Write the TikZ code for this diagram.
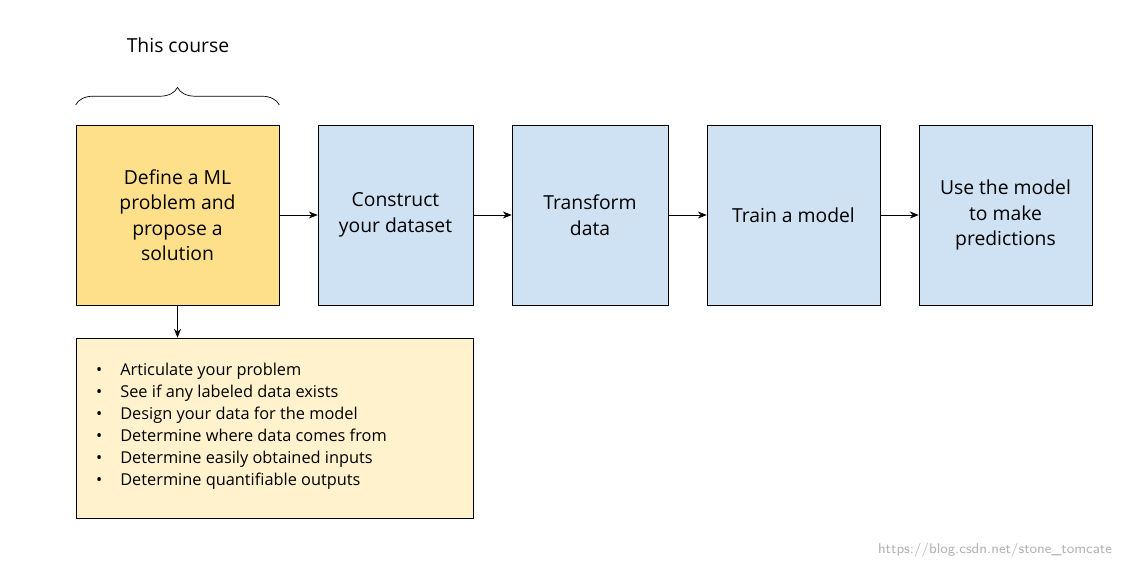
\documentclass[tikz,border=0pt]{standalone}
\usepackage{fontspec}
\setmainfont{Open Sans}
\usetikzlibrary{arrows.meta,positioning,calc,decorations.pathreplacing}
\definecolor{stepYellow}{HTML}{FFE08A}
\definecolor{stepBlue}{HTML}{CFE2F3}
\definecolor{noteYellow}{HTML}{FFF2CC}
\begin{document}
\begin{tikzpicture}[
				stage/.style={draw,fill=stepBlue,minimum height=3.6cm,inner sep=2pt,align=center,font=\fontsize{11}{14.5}\selectfont},
				flow/.style={-{Stealth[length=5pt,width=4pt]},thin}]
			\useasboundingbox (0,0) rectangle (22.56,-11.36);
			\node [stage,fill=stepYellow,minimum width=4.06cm] (define) at (3.55,-4.3) {Define a ML\\problem and\\propose a\\solution};
			\node [stage,minimum width=3.1cm] (construct) at (7.91,-4.3) {Construct\\your dataset};
			\node [stage,minimum width=3.12cm] (transform) at (11.8,-4.3) {Transform\\data};
			\node [stage,minimum width=3.46cm] (train) at (15.87,-4.3) {Train a model};
			\node [stage,minimum width=3.46cm] (predict) at (20.11,-4.3) {Use the model\\to make\\predictions};
			\node [draw,fill=noteYellow,minimum width=7.94cm,minimum height=3.6cm] (notes) at (5.49,-8.56) {};
			\node [anchor=west,align=left,font=\fontsize{9.3}{12.5}\selectfont] (items) at (1.8,-8.52) {%
				\textbullet\hspace{1.1em}Articulate your problem\\
				\textbullet\hspace{1.1em}See if any labeled data exists\\
				\textbullet\hspace{1.1em}Design your data for the model\\
				\textbullet\hspace{1.1em}Determine where data comes from\\
				\textbullet\hspace{1.1em}Determine easily obtained inputs\\
				\textbullet\hspace{1.1em}Determine quantifiable outputs};
			% scope of the course
			\coordinate (braceL) at (define.north west |- 0,-2.1);
			\coordinate (braceR) at (define.north east |- 0,-2.1);
			\draw [decorate,decoration={brace,amplitude=10pt}] (braceL) -- (braceR);
			\node [font=\fontsize{11}{13}\selectfont] (course) at (3.56,-0.9) {This course};
			% steps
			\draw [flow] (define) -- (construct);
			\draw [flow] (construct) -- (transform);
			\draw [flow] (transform) -- (train);
			\draw [flow] (train) -- (predict);
			\draw [flow] (define.south) -- (define.south |- notes.north);
			\node [text=black!30,font=\fontsize{8}{10}\selectfont\sffamily] (mark) at (19.9,-11.0) {https://blog.csdn.net/stone\_tomcate};
		\end{tikzpicture}
\end{document}
